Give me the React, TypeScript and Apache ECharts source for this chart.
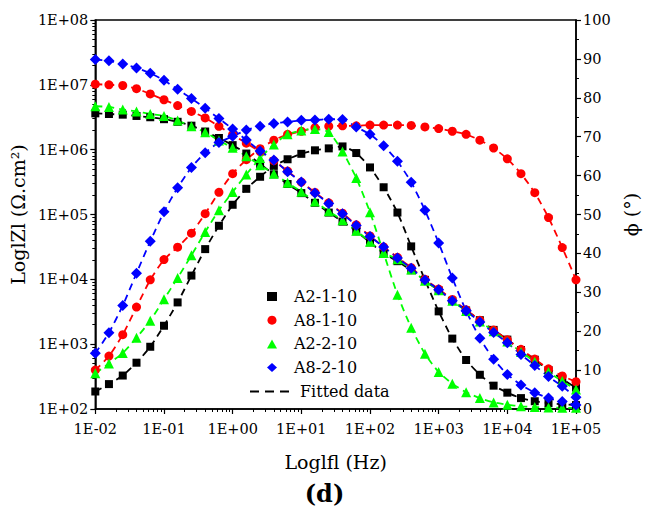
import React, { useEffect, useRef } from 'react';
import * as echarts from 'echarts';

const FONT = 'DejaVu Serif';

// Frequencies (Hz), 5 points per decade
const freq = [0.01, 0.0158, 0.0251, 0.0398, 0.0631, 0.1, 0.158, 0.251, 0.398, 0.631, 1, 1.58, 2.51, 3.98, 6.31, 10, 15.8, 25.1, 39.8, 63.1, 100, 158, 251, 398, 631, 1000, 1580, 2510, 3980, 6310, 10000, 15800, 25100, 39800, 63100, 100000];

const xTickLabels = ['1E-02', '1E-01', '1E+00', '1E+01', '1E+02', '1E+03', '1E+04', '1E+05'];
const yTickLabels = ['1E+02', '1E+03', '1E+04', '1E+05', '1E+06', '1E+07', '1E+08'];

const names = ['A2-1-10', 'A8-1-10', 'A2-2-10', 'A8-2-10'];
const colors = ['#000000', '#ff0000', '#00ff00', '#0000ff'];
const symbols = ['rect', 'circle', 'triangle', 'diamond'];
const symbolSizes = [8, 9, 10, 11];

// log10 |Z| values
const logZ_A2_1 = [6.56, 6.55, 6.54, 6.52, 6.50, 6.47, 6.43, 6.37, 6.28, 6.18, 6.07, 5.94, 5.78, 5.62, 5.47, 5.33, 5.18, 5.03, 4.89, 4.74, 4.57, 4.40, 4.28, 4.14, 3.98, 3.83, 3.67, 3.52, 3.37, 3.22, 3.07, 2.91, 2.76, 2.60, 2.46, 2.33];
const logZ_A8_1 = [7.01, 7.00, 6.99, 6.94, 6.86, 6.77, 6.68, 6.59, 6.49, 6.36, 6.23, 6.10, 5.97, 5.83, 5.67, 5.50, 5.34, 5.18, 5.02, 4.84, 4.67, 4.50, 4.34, 4.18, 4.00, 3.85, 3.69, 3.53, 3.37, 3.22, 3.07, 2.92, 2.77, 2.62, 2.51, 2.42];
const logZ_A2_2 = [6.67, 6.66, 6.62, 6.59, 6.55, 6.52, 6.45, 6.36, 6.27, 6.14, 6.03, 5.90, 5.76, 5.63, 5.49, 5.35, 5.20, 5.05, 4.91, 4.75, 4.58, 4.41, 4.31, 4.15, 3.98, 3.83, 3.67, 3.51, 3.35, 3.20, 3.04, 2.88, 2.73, 2.57, 2.43, 2.30];
const logZ_A8_2 = [7.39, 7.37, 7.32, 7.26, 7.18, 7.07, 6.93, 6.79, 6.64, 6.48, 6.32, 6.15, 5.98, 5.84, 5.66, 5.50, 5.33, 5.17, 5.01, 4.83, 4.66, 4.50, 4.33, 4.17, 3.99, 3.84, 3.67, 3.52, 3.34, 3.18, 3.02, 2.84, 2.67, 2.50, 2.35, 2.18];

// phase angle (degrees)
const phase_A2_1 = [4.5, 6.4, 8.6, 11.9, 16.0, 21.4, 27.4, 34.3, 41.1, 47.1, 52.5, 56.6, 59.7, 62.5, 64.2, 65.6, 66.5, 67.0, 67.5, 65.8, 62.1, 57.0, 50.5, 41.8, 33.2, 25.1, 18.1, 12.6, 8.8, 6.0, 4.2, 2.8, 2.0, 1.5, 1.2, 1.0];
const phase_A8_1 = [10.0, 13.6, 19.1, 26.2, 33.2, 38.4, 41.6, 45.2, 50.2, 55.7, 60.5, 64.1, 66.9, 69.1, 70.6, 71.4, 72.3, 72.7, 72.8, 72.8, 73.0, 73.0, 73.0, 72.9, 72.5, 72.1, 71.4, 70.6, 69.1, 67.1, 64.3, 60.5, 55.6, 49.2, 41.5, 33.2];
const phase_A2_2 = [9.2, 11.7, 14.4, 18.3, 22.7, 28.2, 33.7, 39.5, 45.5, 51.1, 55.8, 60.3, 64.5, 68.0, 70.6, 71.6, 72.0, 71.2, 66.2, 59.4, 50.6, 40.1, 29.4, 20.9, 14.2, 9.5, 6.5, 4.3, 2.8, 1.7, 1.1, 0.7, 0.5, 0.4, 0.3, 0.3];
const phase_A8_2 = [14.3, 19.6, 26.6, 34.9, 43.1, 50.7, 56.9, 62.1, 65.9, 68.5, 70.1, 71.7, 72.7, 73.4, 73.8, 74.2, 74.3, 74.5, 74.4, 72.5, 70.6, 67.7, 63.7, 58.3, 51.1, 42.7, 33.7, 25.2, 18.2, 12.8, 8.9, 6.2, 4.2, 2.8, 1.9, 1.0];

const logZSets = [logZ_A2_1, logZ_A8_1, logZ_A2_2, logZ_A8_2];
const phaseSets = [phase_A2_1, phase_A8_1, phase_A2_2, phase_A8_2];

export default function App() {
  const ref = useRef<HTMLDivElement>(null);
  useEffect(() => {
    if (!ref.current) return;
    const chart = echarts.init(ref.current, null, { renderer: 'svg' });
    const series: any[] = [];
    names.forEach((name, s) => {
      const common = {
        name,
        type: 'line',
        symbol: symbols[s],
        symbolSize: symbolSizes[s],
        itemStyle: { color: colors[s] },
        lineStyle: { color: colors[s], width: 1.8, type: [7, 5] },
        smooth: 0.2,
        clip: false,
      };
      series.push({
        ...common,
        yAxisIndex: 0,
        data: freq.map((f, i) => [f, Math.pow(10, logZSets[s][i])]),
      });
      series.push({
        ...common,
        yAxisIndex: 1,
        data: freq.map((f, i) => [f, phaseSets[s][i]]),
      });
    });
    series.push({
      name: 'Fitted data',
      type: 'line',
      data: [],
      symbol: 'none',
      itemStyle: { color: '#000' },
      lineStyle: { color: '#000', type: [9, 6], width: 2 },
    });

    const axisLine = { lineStyle: { color: '#000', width: 1.5 } };
    const tick = { length: 5, lineStyle: { color: '#000', width: 1.2 } };
    const minor = { show: true, length: 3, lineStyle: { color: '#000', width: 1 } };
    const label = { fontSize: 14.5, color: '#000', fontFamily: FONT };
    const nameStyle = { fontSize: 19, color: '#000', fontFamily: FONT };

    chart.setOption({
      animation: false,
      backgroundColor: '#fff',
      textStyle: { fontFamily: FONT },
      title: {
        text: '(d)',
        left: 'center',
        top: 481,
        padding: 0,
        textStyle: { fontSize: 24, fontWeight: 'bold', color: '#000', fontFamily: FONT },
      },
      grid: { left: 95, right: 73, top: 20, bottom: 105, show: true, borderColor: '#000', borderWidth: 1.5 },
      legend: [
        {
          orient: 'vertical',
          left: 262,
          top: 283.5,
          itemWidth: 10,
          itemHeight: 9,
          itemGap: 7.7,
          selectedMode: false,
          data: names.map((n, i) => ({ name: n, icon: symbols[i] })),
          textStyle: { fontSize: 16, color: '#000', fontFamily: FONT, padding: [0, 0, 0, 12] },
        },
        {
          orient: 'vertical',
          left: 245,
          top: 378.5,
          itemWidth: 39,
          itemHeight: 9,
          selectedMode: false,
          data: [{ name: 'Fitted data', icon: 'path://M0,0L9,0L9,2L0,2ZM15,0L24,0L24,2L15,2ZM30,0L39,0L39,2L30,2Z' }],
          textStyle: { fontSize: 16, color: '#000', fontFamily: FONT, padding: [0, 0, 0, 6] },
        },
      ],
      xAxis: {
        type: 'log',
        logBase: 10,
        min: 0.01,
        max: 100000,
        splitNumber: 7,
        name: 'Loglfl (Hz)',
        nameLocation: 'middle',
        nameGap: 43,
        nameTextStyle: nameStyle,
        axisLine,
        axisTick: tick,
        minorTick: { ...minor, splitNumber: 9 },
        splitLine: { show: false },
        minorSplitLine: { show: false },
        axisLabel: {
          ...label,
          margin: 12,
          formatter: (v: number) => xTickLabels[Math.round(Math.log10(v)) + 2] ?? '',
        },
      },
      yAxis: [
        {
          type: 'log',
          logBase: 10,
          min: 100,
          max: 100000000,
          splitNumber: 6,
          name: 'LoglZl (Ω.cm²)',
          nameLocation: 'middle',
          nameRotate: 90,
          nameGap: 63,
          nameTextStyle: nameStyle,
          axisLine: { ...axisLine, show: true },
          axisTick: tick,
          minorTick: { ...minor, splitNumber: 9 },
          splitLine: { show: false },
          minorSplitLine: { show: false },
          axisLabel: {
            ...label,
            margin: 7,
            formatter: (v: number) => yTickLabels[Math.round(Math.log10(v)) - 2] ?? '',
          },
        },
        {
          type: 'value',
          position: 'right',
          min: 0,
          max: 100,
          interval: 10,
          name: 'ϕ (°)',
          nameLocation: 'middle',
          nameRotate: 90,
          nameGap: 32,
          nameTextStyle: nameStyle,
          axisLine: { ...axisLine, show: true },
          axisTick: tick,
          minorTick: { ...minor, splitNumber: 2 },
          splitLine: { show: false },
          minorSplitLine: { show: false },
          axisLabel: { ...label, margin: 7 },
        },
      ],
      series,
    });
    return () => chart.dispose();
  }, []);
  return <div ref={ref} style={{ position: 'fixed', left: 0, top: 0, width: 649, height: 514 }} />;
}
